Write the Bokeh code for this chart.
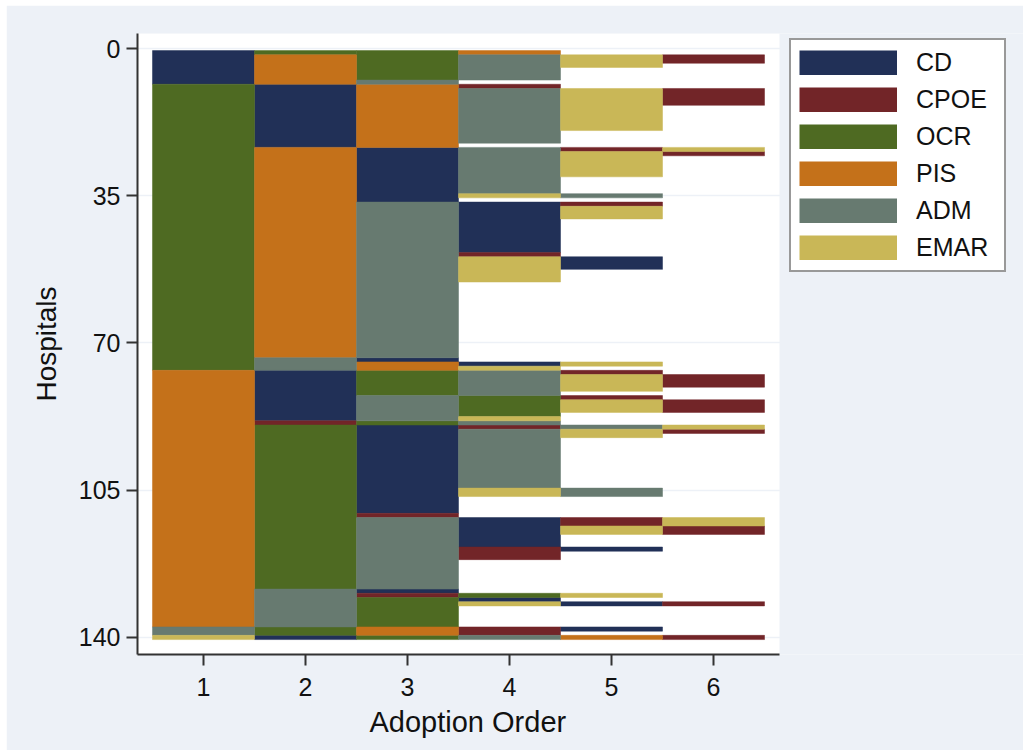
from bokeh.plotting import figure
from bokeh.models import Range1d, Legend, LegendItem, ColumnDataSource, FixedTicker, BoxAnnotation, Title
from bokeh.embed import file_html
from bokeh.resources import INLINE

technologies = ["CD", "CPOE", "OCR", "PIS", "ADM", "EMAR"]
colors = ["#213057", "#722528", "#4e6a22", "#c4711a", "#677a70", "#c9b757"]

# Each column: edges of stacked hospital blocks and the technology in each block (None = no adoption)
order1_edges = [0.5, 8.5, 76.5, 137.5, 139.5, 140.5]
order1_techs = ["CD", "OCR", "PIS", "ADM", "EMAR"]

order2_edges = [0.5, 1.5, 8.5, 23.5, 73.5, 76.5, 88.5, 89.5, 128.5, 137.5, 139.5, 140.5]
order2_techs = ["OCR", "PIS", "CD", "PIS", "ADM", "CD", "CPOE", "OCR", "ADM", "OCR", "CD"]

order3_edges = [0.5, 7.5, 8.5, 23.5, 36.5, 73.5, 74.5, 76.5, 82.5, 88.5, 89.5, 110.5, 111.5,
                128.5, 129.5, 130.5, 137.5, 139.5, 140.5]
order3_techs = ["OCR", "ADM", "PIS", "CD", "ADM", "CD", "PIS", "OCR", "ADM", "OCR", "CD", "CPOE",
                "ADM", "CD", "CPOE", "OCR", "PIS", "OCR"]

order4_edges = [0.5, 1.5, 7.5, 8.5, 9.5, 22.5, 23.5, 34.5, 35.5, 36.5, 48.5, 49.5, 55.5, 74.5,
                75.5, 76.5, 82.5, 87.5, 88.5, 89.5, 90.5, 104.5, 106.5, 111.5, 118.5, 121.5,
                129.5, 130.5, 131.5, 132.5, 137.5, 139.5, 140.5]
order4_techs = ["PIS", "ADM", None, "CPOE", "ADM", None, "ADM", "EMAR", None, "CD", "CPOE", "EMAR",
                None, "CD", "EMAR", "ADM", "OCR", "EMAR", "ADM", "CPOE", "ADM", "EMAR", None, "CD",
                "CPOE", None, "OCR", "CD", "EMAR", None, "CPOE", "ADM"]

order5_edges = [1.5, 4.5, 9.5, 19.5, 23.5, 24.5, 30.5, 34.5, 35.5, 36.5, 37.5, 40.5, 49.5, 52.5,
                74.5, 75.5, 76.5, 77.5, 81.5, 82.5, 83.5, 86.5, 89.5, 90.5, 92.5, 104.5, 106.5,
                111.5, 113.5, 115.5, 118.5, 119.5, 129.5, 130.5, 131.5, 132.5, 137.5, 138.5,
                139.5, 140.5]
order5_techs = ["EMAR", None, "EMAR", None, "CPOE", "EMAR", None, "ADM", None, "CPOE", "EMAR", None,
                "CD", None, "EMAR", None, "CPOE", "EMAR", None, "CPOE", "EMAR", None, "ADM", "EMAR",
                None, "ADM", None, "CPOE", "EMAR", None, "CD", None, "EMAR", None, "CD", None, "CD",
                None, "PIS"]

order6_edges = [1.5, 3.5, 9.5, 13.5, 23.5, 24.5, 25.5, 77.5, 80.5, 83.5, 86.5, 89.5, 90.5, 91.5,
                111.5, 113.5, 115.5, 131.5, 132.5, 139.5, 140.5]
order6_techs = ["CPOE", None, "CPOE", None, "EMAR", "CPOE", None, "CPOE", None, "CPOE", None, "EMAR",
                "CPOE", None, "EMAR", "CPOE", None, "CPOE", None, "CPOE"]

orders = [1, 2, 3, 4, 5, 6]
all_edges = [order1_edges, order2_edges, order3_edges, order4_edges, order5_edges, order6_edges]
all_techs = [order1_techs, order2_techs, order3_techs, order4_techs, order5_techs, order6_techs]

y_ticks = [0, 35, 70, 105, 140]

BG = "#edf1f7"
AX = "#333333"
FONT = "Liberation Sans"
X_START, X_AXIS_END, X_FRAME_END = 0.353, 6.647, 9.039

p = figure(width=1017, height=745, margin=(5, 0, 0, 6), output_backend="svg", toolbar_location=None,
           x_range=Range1d(X_START, X_FRAME_END), y_range=Range1d(144.05, -3.57),
           background_fill_color=BG, border_fill_color=BG,
           min_border_left=131, min_border_right=0, min_border_top=28, min_border_bottom=96)
p.outline_line_color = None

# white plot region; the frame runs on under the legend in the page colour
p.add_layout(BoxAnnotation(left=X_START, right=X_AXIS_END, fill_color="white", fill_alpha=1.0,
                           line_color=None, level="image"))

data = {t: {"left": [], "right": [], "top": [], "bottom": []} for t in technologies}
for order, edges, techs in zip(orders, all_edges, all_techs):
    for i, tech in enumerate(techs):
        if tech is None:
            continue
        d = data[tech]
        d["left"].append(order - 0.5)
        d["right"].append(order + 0.5)
        d["top"].append(edges[i])
        d["bottom"].append(edges[i + 1])

nan = float("nan")
items = []
for tech, color in zip(technologies, colors):
    p.quad(left="left", right="right", top="top", bottom="bottom",
           source=ColumnDataSource(data[tech]), fill_color=color, line_color=color, line_width=0.5)
    # legend key: a thick line gives a swatch of the exact key size
    key = p.line(x=[nan, nan], y=[nan, nan], line_color=color, line_width=25, line_cap="butt")
    items.append(LegendItem(label=tech, renderers=[key]))

legend = Legend(items=items, location=(652, 382), orientation="vertical",
                glyph_width=98, glyph_height=25, spacing=8, padding=8, margin=0,
                label_standoff=19, label_height=25, label_width=80,
                label_text_font=FONT, label_text_font_size="25px", label_text_color="#111111",
                border_line_color=AX, border_line_width=2,
                background_fill_color="white", background_fill_alpha=1.0)
p.add_layout(legend, "center")

p.xgrid.visible = False
p.ygrid.ticker = FixedTicker(ticks=y_ticks)
p.ygrid.grid_line_color = BG
p.ygrid.grid_line_width = 1.5

p.xaxis.ticker = FixedTicker(ticks=orders)
p.yaxis.ticker = FixedTicker(ticks=y_ticks)
p.xaxis.bounds = (X_START, X_AXIS_END)
p.yaxis.axis_label = "Hospitals"

for ax in (p.xaxis[0], p.yaxis[0]):
    ax.axis_line_color = AX
    ax.axis_line_width = 2
    ax.major_tick_line_color = AX
    ax.major_tick_line_width = 2
    ax.major_tick_out = 11
    ax.major_tick_in = 0
    ax.minor_tick_line_color = None
    ax.major_label_text_font = FONT
    ax.major_label_text_font_size = "25px"
    ax.major_label_text_color = "#111111"
    ax.major_label_standoff = 12
    ax.axis_label_text_font = FONT
    ax.axis_label_text_font_style = "normal"
    ax.axis_label_text_font_size = "28px"
    ax.axis_label_text_color = "#111111"
    ax.axis_label_standoff = 10

p.yaxis[0].major_label_orientation = "horizontal"
p.yaxis[0].major_label_standoff = 6
p.yaxis[0].axis_label_standoff = 14

# x title is centred on the drawn axis, not on the wider frame
p.add_layout(Title(text="Adoption Order", align="left", offset=232, standoff=10,
                   text_font=FONT, text_font_size="29px", text_font_style="normal",
                   text_color="#111111"), "below")

open("out.html", "w").write(file_html(p, INLINE))
